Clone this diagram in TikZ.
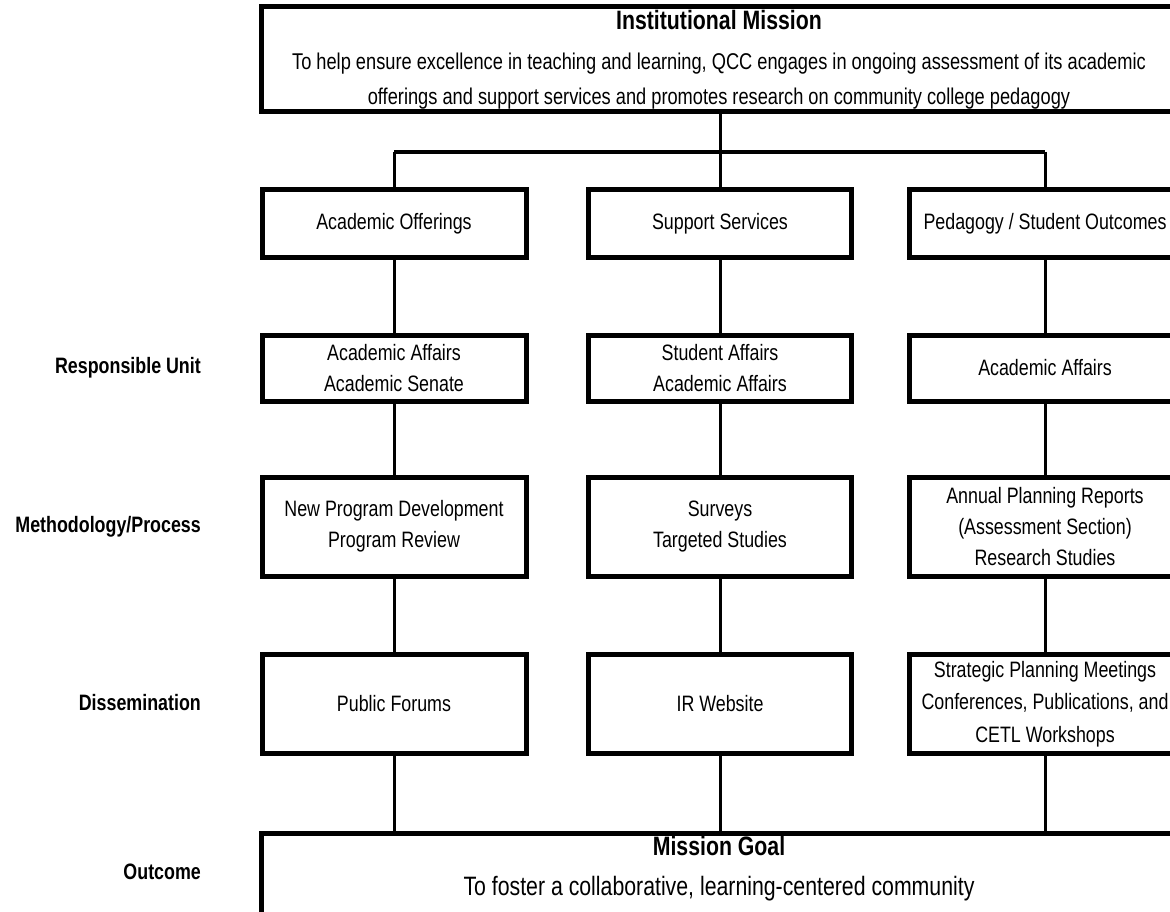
\documentclass[tikz,border=0pt]{standalone}
\usepackage{fontspec}
\setmainfont{Liberation Sans}[FakeStretch=0.8]
\begin{document}
\begin{tikzpicture}[x=1pt,y=-1pt,
  box/.style={draw, line width=5pt, align=center, inner sep=0pt, font=\fontsize{22.3}{31}\selectfont},
  conn/.style={line width=3pt},
  bus/.style={line width=4pt},
  lab/.style={anchor=east, inner sep=0pt, font=\fontsize{22.3}{25}\selectfont\bfseries}]
\useasboundingbox (0,0) rectangle (1170,912);
\clip (0,0) rectangle (1170,912);
% top box
\node[box, minimum width=916pt, minimum height=105pt, font=\fontsize{22.8}{35}\selectfont] (top) at (719,59.5)
  {{\fontsize{26.6}{35}\selectfont\bfseries Institutional Mission}\\[5pt]
   To help ensure excellence in teaching and learning, QCC engages in ongoing assessment of its academic\\
   offerings and support services and promotes research on community college pedagogy};
% row 1
\node[box, minimum width=264pt, minimum height=67pt] (a1) at (394,223.5) {Academic Offerings};
\node[box, minimum width=263pt, minimum height=67pt] (b1) at (720,223.5) {Support Services};
\node[box, minimum width=272pt, minimum height=67pt] (c1) at (1045,223.5) {Pedagogy / Student Outcomes};
% row 2
\node[box, minimum width=264pt, minimum height=66pt] (a2) at (394,368) {Academic Affairs\\Academic Senate};
\node[box, minimum width=263pt, minimum height=66pt] (b2) at (720,368) {Student Affairs\\Academic Affairs};
\node[box, minimum width=272pt, minimum height=66pt] (c2) at (1045,368) {Academic Affairs};
% row 3
\node[box, minimum width=264pt, minimum height=99pt] (a3) at (394,526.5) {New Program Development\\Program Review};
\node[box, minimum width=263pt, minimum height=99pt] (b3) at (720,526.5) {Surveys\\Targeted Studies};
\node[box, minimum width=272pt, minimum height=99pt] (c3) at (1045,526.5) {Annual Planning Reports\\(Assessment Section)\\Research Studies};
% row 4
\node[box, minimum width=264pt, minimum height=99pt] (a4) at (394,703.5) {Public Forums};
\node[box, minimum width=263pt, minimum height=99pt] (b4) at (720,703.5) {IR Website};
\node[box, minimum width=272pt, minimum height=99pt, font=\fontsize{22.3}{32.5}\selectfont] (c4) at (1045,704) {Strategic Planning Meetings\\Conferences, Publications, and\\CETL Workshops};
% goal box
\node[box, minimum width=916pt, minimum height=120pt, anchor=north] (goal) at (719,830.5) {};
\node[align=center, inner sep=0pt, font=\fontsize{26.6}{40}\selectfont] (goaltext) at (719,869)
  {\textbf{Mission Goal}\\To foster a collaborative, learning-centered community};
% labels
\node[lab] (l1) at (201,368) {Responsible Unit};
\node[lab] (l2) at (201,527) {Methodology/Process};
\node[lab] (l3) at (201,703) {Dissemination};
\node[lab] (l4) at (201,872) {Outcome};
% connectors
\coordinate (busy) at (0,152);
\coordinate (busM) at (b1.north |- busy);
\coordinate (busL) at (a1.north |- busy);
\coordinate (busR) at (c1.north |- busy);
\draw[conn] (top.south -| busM) -- (busM);
\draw[bus] (busL) -- (busR);
\draw[conn] (busL) -- (a1.north);
\draw[conn] (busM) -- (b1.north);
\draw[conn] (busR) -- (c1.north);
\foreach \c in {a,b,c}{
  \draw[conn] (\c1.south) -- (\c2.north);
  \draw[conn] (\c2.south) -- (\c3.north);
  \draw[conn] (\c3.south) -- (\c4.north);
  \coordinate (\c g) at (\c4.south |- goal.north);
  \draw[conn] (\c4.south) -- (\c g);
}
\end{tikzpicture}
\end{document}
